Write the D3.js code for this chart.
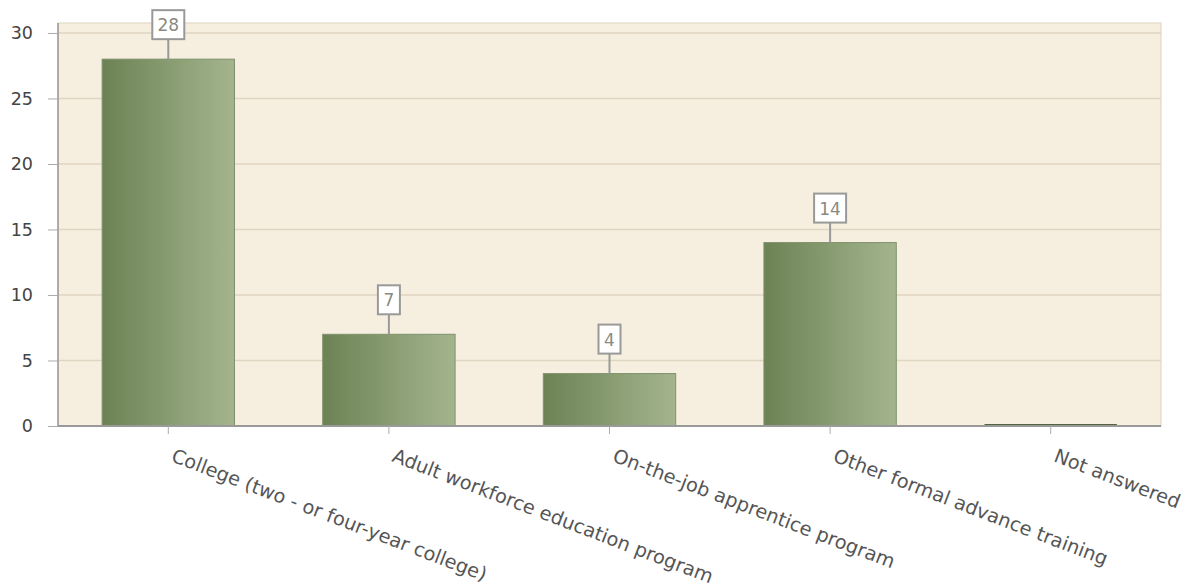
<!DOCTYPE html>
<html><head><meta charset="utf-8">
<script src="https://cdn.jsdelivr.net/npm/d3@7"></script>
<style>body{margin:0;background:#fff;} text{font-family:"DejaVu Sans",Verdana,sans-serif;}</style>
</head><body>
<svg id="chart" width="1183" height="586"></svg>
<script>
const categories = ["College (two - or four-year college)","Adult workforce education program","On-the-job apprentice program","Other formal advance training","Not answered"];
const values = [28, 7, 4, 14, 0];
const yTicks = [0, 5, 10, 15, 20, 25, 30];

const svg = d3.select("#chart");
const m = {left: 58, right: 1161, top: 23, bottom: 426};
const x = d3.scaleBand().domain(categories).range([m.left, m.right]).paddingInner(0.4).paddingOuter(0.2);
const y = d3.scaleLinear().domain([0, 30.76]).range([m.bottom, m.top]);

const defs = svg.append("defs");
const g = defs.append("linearGradient").attr("id","barg").attr("x1","0").attr("x2","1").attr("y1","0").attr("y2","0");
g.append("stop").attr("offset","0").attr("stop-color","#6c8254");
g.append("stop").attr("offset","1").attr("stop-color","#a4b58e");

svg.append("rect").attr("x", m.left).attr("y", m.top).attr("width", m.right-m.left).attr("height", m.bottom-m.top)
  .attr("fill","#f6efe0").attr("stroke","#ddd3bf");

// grid
svg.append("g").selectAll("line").data(yTicks.filter(d=>d>0)).join("line")
  .attr("x1", m.left).attr("x2", m.right).attr("y1", d=>y(d)).attr("y2", d=>y(d))
  .attr("stroke","#e0d5c0").attr("stroke-width",1.5);

// bars
const bw = x.bandwidth();
svg.append("g").selectAll("rect").data(values).join("rect")
  .attr("x",(d,i)=>x(categories[i])).attr("y", d=>y(d)).attr("width", bw).attr("height", d=>y(0)-y(d))
  .attr("fill","url(#barg)").attr("stroke","#7f916c").attr("stroke-width",1);

// zero-height bar line
svg.append("g").selectAll("line").data(values.map((v,i)=>[v,i]).filter(d=>d[0]===0)).join("line")
  .attr("x1", d=>x(categories[d[1]])).attr("x2", d=>x(categories[d[1]])+bw)
  .attr("y1", y(0)-1).attr("y2", y(0)-1).attr("stroke","#55643f").attr("stroke-width",2);

// y axis
const ya = svg.append("g").attr("transform",`translate(${m.left},0)`)
  .call(d3.axisLeft(y).tickValues(yTicks).tickSize(10).tickPadding(15));
ya.select(".domain").attr("stroke","#999").attr("stroke-width",1.5).attr("d",`M0,${m.top}V${m.bottom}`);
ya.selectAll(".tick line").attr("stroke","#aaa").attr("x2",-10).attr("x1",0);
ya.selectAll(".tick text").attr("font-size",17.5).attr("fill","#444").attr("font-family","DejaVu Sans, Verdana, sans-serif").attr("x",-25);

// x axis
const xa = svg.append("g").attr("transform",`translate(0,${m.bottom})`)
  .call(d3.axisBottom(x).tickSize(8).tickSizeOuter(0));
xa.select(".domain").attr("stroke","#999").attr("stroke-width",2).attr("d",`M${m.left},0H${m.right}`);
xa.selectAll(".tick line").attr("stroke","#aaa");
xa.selectAll(".tick text").attr("font-size",19.3).attr("fill","#555").attr("font-family","DejaVu Sans, Verdana, sans-serif")
  .attr("text-anchor","start").attr("dy",null).attr("y",null)
  .attr("transform","translate(2,35) rotate(21)");

// value labels
const lab = svg.append("g").selectAll("g").data(values.map((v,i)=>[v,i]).filter(d=>d[0]>0)).join("g")
  .attr("transform", d=>`translate(${x(categories[d[1]])+bw/2},${y(d[0])})`);
lab.append("line").attr("x1",0).attr("x2",0).attr("y1",0).attr("y2",-20).attr("stroke","#999").attr("stroke-width",2);
lab.each(function(d){
  const s = d3.select(this);
  const t = String(d[0]);
  const w = t.length===1 ? 22 : 32;
  s.append("rect").attr("x",-w/2).attr("y",-49).attr("width",w).attr("height",29)
    .attr("fill","#fff").attr("stroke","#999").attr("stroke-width",2);
  s.append("text").attr("x",0).attr("y",-28).attr("text-anchor","middle").attr("font-size",17).attr("fill","#8a8a80").text(t);
});
</script>
</body></html>
